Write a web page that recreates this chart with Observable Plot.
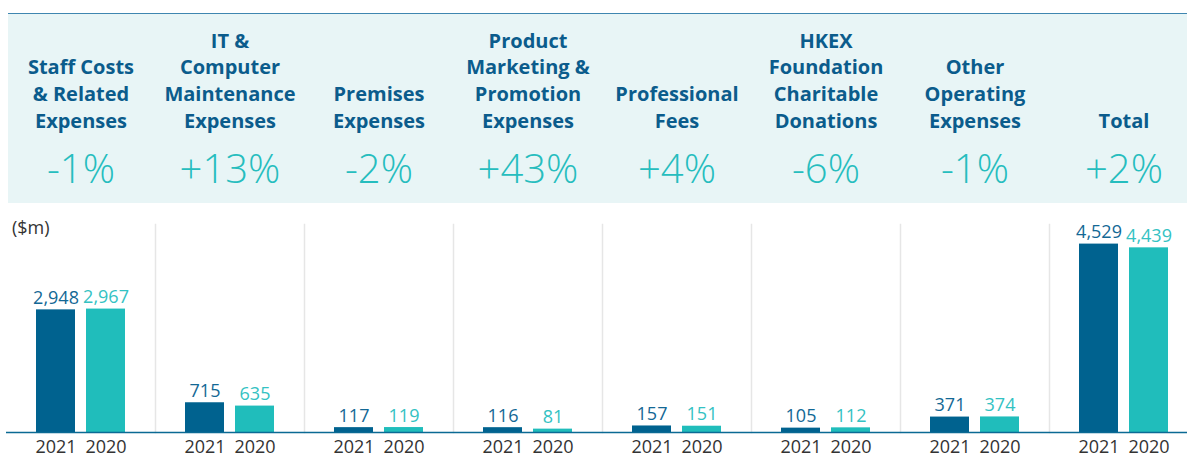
<!DOCTYPE html>
<html>
<head>
<meta charset="utf-8">
<script src="https://cdn.jsdelivr.net/npm/d3@7"></script>
<script src="https://cdn.jsdelivr.net/npm/@observablehq/plot@0.6"></script>
<style>
  html, body { margin: 0; padding: 0; background: #fff; }
  #wrap { position: relative; width: 1187px; height: 457px; overflow: hidden; }
  #banner { position: absolute; left: 8px; top: 13px; width: 1179px; height: 190px;
            background: #E8F5F6; border-top: 1.5px solid #3F86B0; box-sizing: border-box; }
  #unit { position: absolute; left: 12px; top: 215px; font-family: "Open Sans", sans-serif;
          font-size: 18px; color: #333; }
  #chart { position: absolute; left: 0; top: 0; }
</style>
</head>
<body>
<div id="wrap">
  <div id="banner"></div>
  <div id="unit">($m)</div>
  <div id="chart"></div>
</div>
<script>
const categories = [
  "Staff Costs & Related Expenses",
  "IT & Computer Maintenance Expenses",
  "Premises Expenses",
  "Product Marketing & Promotion Expenses",
  "Professional Fees",
  "HKEX Foundation Charitable Donations",
  "Other Operating Expenses",
  "Total"
];
const categoryLabels = [
  "Staff Costs\n& Related\nExpenses",
  "IT &\nComputer\nMaintenance\nExpenses",
  "Premises\nExpenses",
  "Product\nMarketing &\nPromotion\nExpenses",
  "Professional\nFees",
  "HKEX\nFoundation\nCharitable\nDonations",
  "Other\nOperating\nExpenses",
  "Total"
];
const changes = ["-1%", "+13%", "-2%", "+43%", "+4%", "-6%", "-1%", "+2%"];
const years = ["2021", "2020"];
const values2021 = [2948, 715, 117, 116, 157, 105, 371, 4529];
const values2020 = [2967, 635, 119, 81, 151, 112, 374, 4439];

const barColors = {"2021": "#00628F", "2020": "#20BDBB"};
const labelColors = {"2021": "#136895", "2020": "#34C2C3"};

const data = categories.flatMap((c, i) => [
  {cat: c, year: years[0], value: values2021[i]},
  {cat: c, year: years[1], value: values2020[i]}
]);

const fmt = d3.format(",");

const plot = Plot.plot({
  width: 1187,
  height: 457,
  marginTop: 224,
  marginBottom: 25,
  marginLeft: 4,
  marginRight: -13,
  style: {background: "transparent", fontFamily: "'Open Sans', sans-serif", overflow: "visible"},
  fx: {domain: categories, padding: 0},
  x: {domain: years, paddingInner: 0.2157, paddingOuter: 0.574},
  y: {domain: [0, 5000], axis: null},
  color: {domain: years, range: years.map(y => barColors[y])},
  marks: [
    Plot.frame({anchor: "left", stroke: "#e6e6e6", strokeWidth: 1.5}),
    Plot.barY(data, {fx: "cat", x: "year", y: "value", fill: "year"}),
    Plot.ruleY([0], {stroke: "#0B6A94", strokeWidth: 1.6}),
    Plot.text(data, {
      fx: "cat", x: "year", y: "value",
      text: d => fmt(d.value),
      fill: d => labelColors[d.year],
      lineAnchor: "bottom", dy: -6, fontSize: 18
    }),
    Plot.axisX({tickSize: 0, tickPadding: 8, fontSize: 18, color: "#333", label: null}),
    Plot.axisFx({
      anchor: "top", tickSize: 0, tickPadding: 97, label: null,
      tickFormat: d => categoryLabels[categories.indexOf(d)],
      fontSize: 20, fontWeight: "bold", color: "#0B5C8C", lineHeight: 1.33
    }),
    Plot.axisFx({
      anchor: "top", tickSize: 0, tickPadding: 42, label: null,
      tickFormat: d => changes[categories.indexOf(d)],
      fontSize: 40, fontWeight: 350, color: "#26BDBE"
    })
  ]
});
document.getElementById("chart").appendChild(plot);
// remove separator at the very left of the first column
plot.querySelectorAll("line").forEach(l => {
  if (l.getAttribute("stroke") === "#e6e6e6" || (l.parentNode && l.parentNode.getAttribute && l.parentNode.getAttribute("stroke") === "#e6e6e6")) {
    const r = l.getBoundingClientRect();
    if (r.left < 10) l.remove();
  }
});
</script>
</body>
</html>
